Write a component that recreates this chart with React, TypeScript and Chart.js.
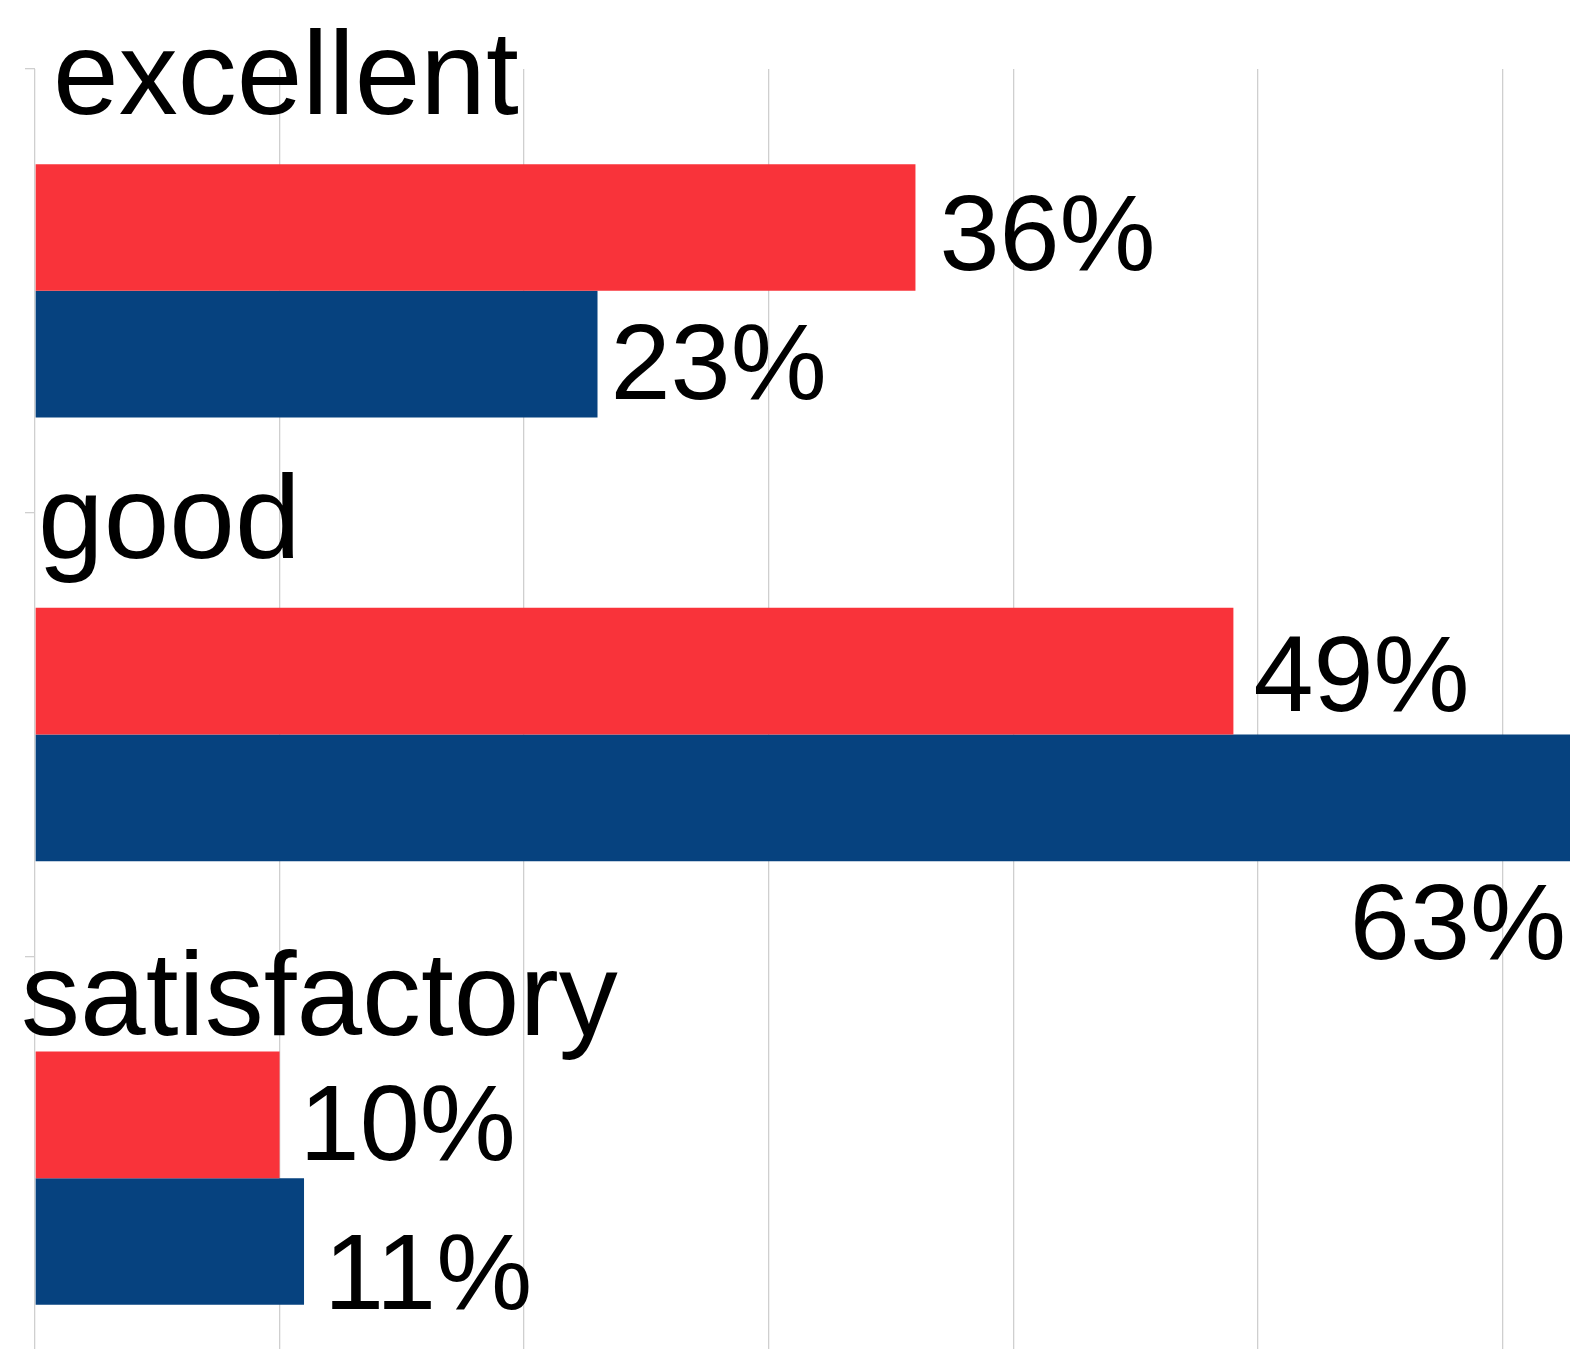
import React, { useEffect, useRef } from "react";
import { Chart, registerables } from "chart.js";

Chart.register(...registerables);

const categories = ["excellent", "good", "satisfactory"];
const seriesRed = [36, 49, 10];
const seriesBlue = [23, 63, 11];
const xTickValues = [0, 10, 20, 30, 40, 50, 60, 70];

const VIEW_W = 1570;
const VIEW_H = 1349;
const CANVAS_W = 1760;
const CANVAS_H = 1420;
const FONT = "'Liberation Sans', Arial, sans-serif";

// style offsets for category labels (relative to chart left / category top)
const catLabelDx = [18, 3, -14];
const catLabelDy = [45, 45, 79];
// style offsets for value-label baselines (relative to bar centre), per dataset
const valueDy = [
  [43, 40, 45],
  [45, 43, 67],
];
const valueDx = [
  [24, 20, 20],
  [13, 20, 20],
];

const labelsPlugin = {
  id: "customLabels",
  afterDatasetsDraw(chart: any) {
    const ctx = chart.ctx;
    const yScale = chart.scales.y;
    const area = chart.chartArea;
    ctx.save();
    ctx.fillStyle = "#000";
    ctx.textAlign = "left";
    ctx.textBaseline = "alphabetic";
    ctx.font = `118px ${FONT}`;
    const half = (yScale.getPixelForValue(1) - yScale.getPixelForValue(0)) / 2;
    categories.forEach((c, i) => {
      const top = yScale.getPixelForValue(i) - half;
      ctx.fillText(c, area.left + catLabelDx[i], top + catLabelDy[i]);
    });
    ctx.font = `108px ${FONT}`;
    chart.data.datasets.forEach((ds: any, di: number) => {
      const meta = chart.getDatasetMeta(di);
      meta.data.forEach((bar: any, i: number) => {
        const text = ds.data[i] + "%";
        const w = ctx.measureText(text).width;
        const x = bar.x + valueDx[di][i];
        if (x + w > VIEW_W) {
          ctx.textAlign = "right";
          ctx.fillText(text, VIEW_W - 4, bar.y + bar.height / 2 + 98);
          ctx.textAlign = "left";
        } else {
          ctx.fillText(text, x, bar.y + valueDy[di][i]);
        }
      });
    });
    ctx.restore();
  },
};

export default function App() {
  const ref = useRef<HTMLCanvasElement | null>(null);
  useEffect(() => {
    document.body.style.margin = "0";
    const canvas = ref.current!;
    const chart = new Chart(canvas, {
      type: "bar",
      data: {
        labels: categories,
        datasets: [
          {
            data: seriesRed,
            backgroundColor: "#F9333A",
            borderWidth: 0,
            categoryPercentage: 0.571,
            barPercentage: 1,
          },
          {
            data: seriesBlue,
            backgroundColor: "#06427F",
            borderWidth: 0,
            categoryPercentage: 0.571,
            barPercentage: 1,
          },
        ],
      },
      options: {
        indexAxis: "y",
        responsive: false,
        animation: false,
        layout: { padding: { left: 25, top: 69, right: 13, bottom: 20 } },
        plugins: {
          legend: { display: false },
          tooltip: { enabled: false },
        },
        scales: {
          x: {
            min: 0,
            max: 70,
            afterBuildTicks: (scale: any) => {
              scale.ticks = xTickValues.map((v) => ({ value: v }));
            },
            ticks: { display: false },
            grid: { color: "#cfcfcf", lineWidth: 1.3, drawTicks: false },
            border: { display: false },
          },
          y: {
            ticks: { display: false },
            grid: {
              drawOnChartArea: false,
              drawTicks: true,
              tickLength: 10,
              color: "#cfcfcf",
              lineWidth: 1.3,
              offset: true,
            },
            border: { display: false },
          },
        },
      },
      plugins: [labelsPlugin],
    } as any);
    return () => chart.destroy();
  }, []);
  return (
    <div
      style={{
        position: "absolute",
        left: 0,
        top: 0,
        width: VIEW_W,
        height: VIEW_H,
        overflow: "hidden",
        background: "#fff",
      }}
    >
      <canvas
        ref={ref}
        width={CANVAS_W}
        height={CANVAS_H}
        style={{ display: "block", width: CANVAS_W, height: CANVAS_H }}
      />
    </div>
  );
}
